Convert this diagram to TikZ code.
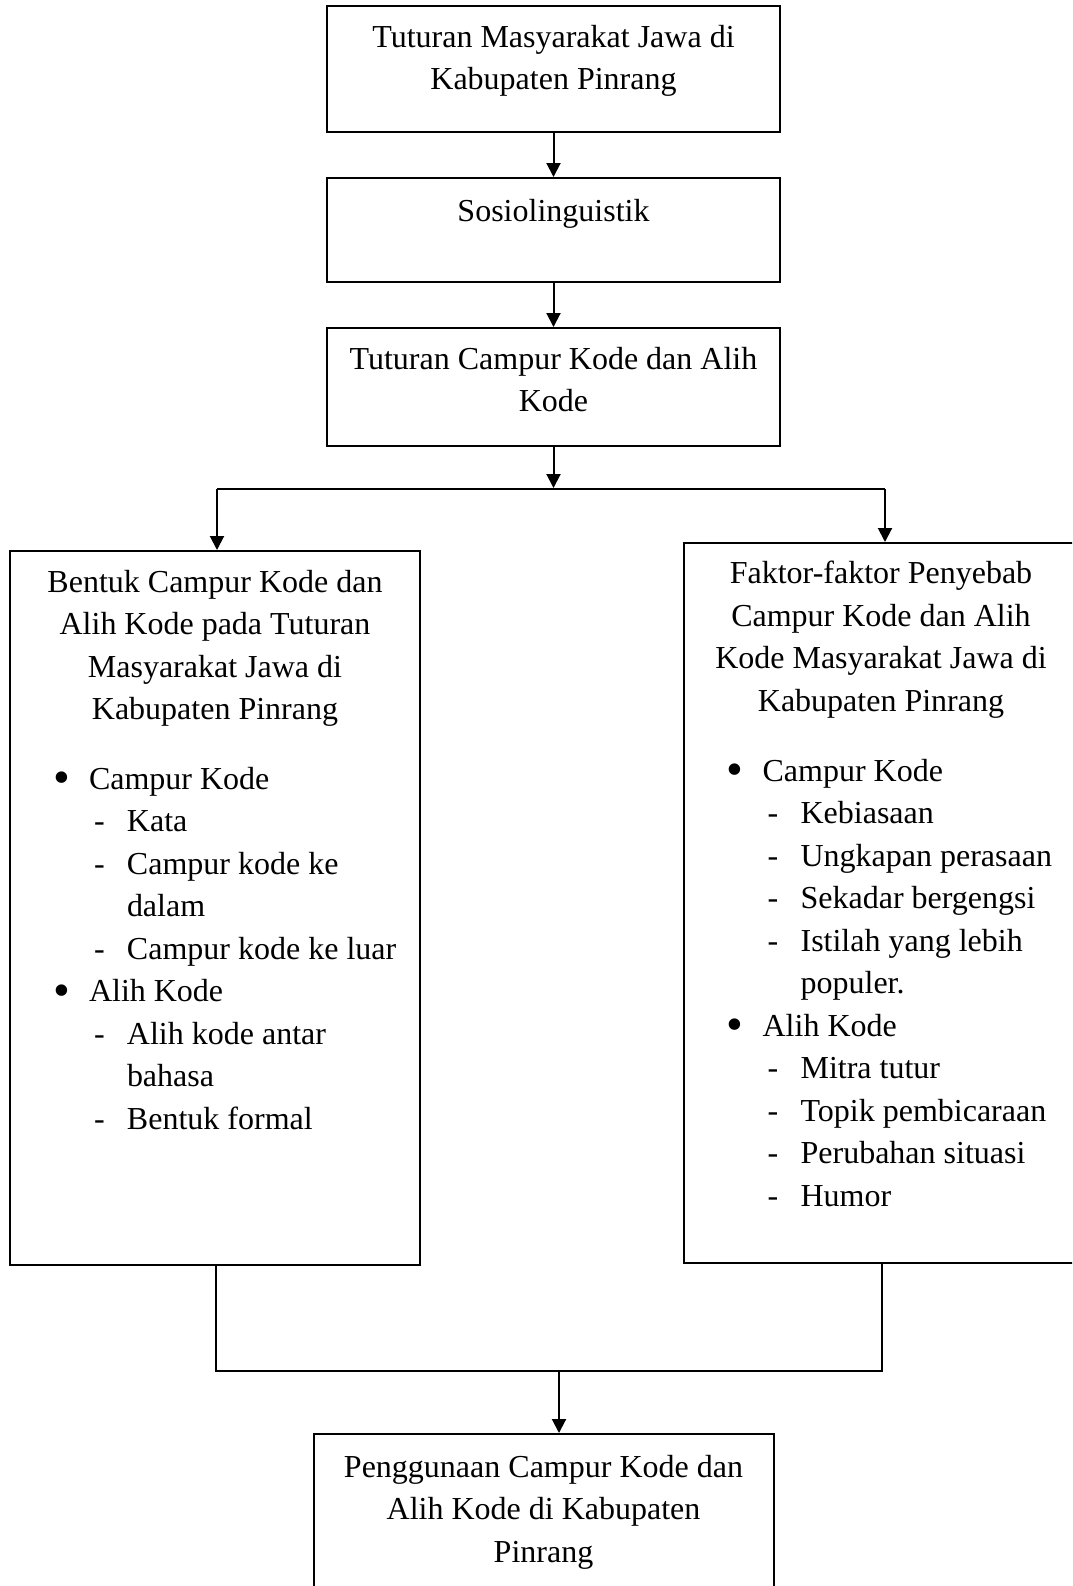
\documentclass[tikz,border=0pt]{standalone}
\usepackage{fontspec}
\setmainfont{Liberation Serif}
\usetikzlibrary{arrows.meta,positioning}
\newcommand{\bulitem}[1]{\makebox[16.5pt][l]{\hspace*{-1.5pt}\raisebox{-2.2pt}{\scalebox{1.5}{\textbullet}}}#1}
\newcommand{\dashitem}[1]{\hspace*{19pt}\makebox[16.5pt][l]{-}#1}
\newcommand{\contline}[1]{\hspace*{35.5pt}#1}

\begin{document}
\begin{tikzpicture}[
    x=0.5pt, y=-0.5pt,
    line width=1pt,
    >={Triangle[length=7pt,width=7pt]},
    box/.style={draw, line width=1pt, inner sep=0pt},
    txt/.style={align=center, inner sep=0pt, anchor=north, font=\fontsize{16}{21.25}\selectfont},
    lst/.style={align=left, inner sep=0pt, anchor=north west, font=\fontsize{16}{21.25}\selectfont}
]
\clip (0,0) rectangle (1072,1586);

% Tuturan
\node[box, minimum width=226.5pt, minimum height=63pt] (tuturan) at (553.5,69) {};
\node[txt] (tuturan_txt) at (553.5,24) {Tuturan Masyarakat Jawa di\\Kabupaten Pinrang};

% Sosiolinguistik
\node[box, minimum width=226.5pt, minimum height=52pt] (sosio) at (553.5,230) {};
\node[txt] (sosio_txt) at (553.5,198) {Sosiolinguistik};

% Campur kode dan alih kode
\node[box, minimum width=226.5pt, minimum height=59pt] (campur) at (553.5,387) {};
\node[txt] (campur_txt) at (553.5,346) {Tuturan Campur Kode dan Alih\\Kode};

% Bentuk
\node[box, minimum width=205pt, minimum height=357pt] (bentuk) at (215,908) {};
\node[txt] (bentuk_txt) at (215,569) {Bentuk Campur Kode dan\\Alih Kode pada Tuturan\\Masyarakat Jawa di\\Kabupaten Pinrang};
\node[lst] (bentuk_lst) at (55,766) {\bulitem{Campur Kode}\\
    \dashitem{Kata}\\
    \dashitem{Campur kode ke}\\
    \contline{dalam}\\
    \dashitem{Campur kode ke luar}\\
    \bulitem{Alih Kode}\\
    \dashitem{Alih kode antar}\\
    \contline{bahasa}\\
    \dashitem{Bentuk formal}};

% Faktor penyebab
\node[box, minimum width=197pt, minimum height=360pt] (faktor) at (881,903) {};
\node[txt] (faktor_txt) at (881,560) {Faktor-faktor Penyebab\\Campur Kode dan Alih\\Kode Masyarakat Jawa di\\Kabupaten Pinrang};
\node[lst] (faktor_lst) at (728.6,758) {\bulitem{Campur Kode}\\
    \dashitem{Kebiasaan}\\
    \dashitem{Ungkapan perasaan}\\
    \dashitem{Sekadar bergengsi}\\
    \dashitem{Istilah yang lebih}\\
    \contline{populer.}\\
    \bulitem{Alih Kode}\\
    \dashitem{Mitra tutur}\\
    \dashitem{Topik pembicaraan}\\
    \dashitem{Perubahan situasi}\\
    \dashitem{Humor}};

% Penggunaan
\node[box, minimum width=230pt, minimum height=83pt] (hasil) at (543.5,1517) {};
\node[txt] (hasil_txt) at (543.5,1454) {Penggunaan Campur Kode dan\\Alih Kode di Kabupaten\\Pinrang};

% Branch points
\coordinate (split) at (553.5,488);
\coordinate (split_l) at (217,489);
\coordinate (split_r) at (885,489);
\coordinate (join_l) at (216,1371);
\coordinate (join_r) at (882,1371);
\coordinate (join_m) at (559,1371);

% Connections
\draw[->] (tuturan) -- (sosio);
\draw[->] (sosio) -- (campur);
\draw[->] (campur) -- (split);

\draw (split_l) -- (split_r);
\draw[->] (split_l) -- (split_l |- bentuk.north);
\draw[->] (split_r) -- (split_r |- faktor.north);

\draw (bentuk.south -| join_l) -- (join_l) -- (join_r) -- (faktor.south -| join_r);
\draw[->] (join_m) -- (join_m |- hasil.north);

\end{tikzpicture}
\end{document}
